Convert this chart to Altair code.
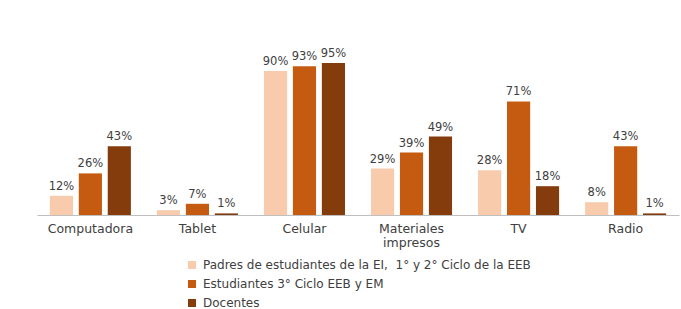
import altair as alt
import pandas as pd

categories = ["Computadora", "Tablet", "Celular", "Materiales impresos", "TV", "Radio"]
series = [
    "Padres de estudiantes de la EI,\u00a0 1° y 2° Ciclo de la EEB",
    "Estudiantes 3° Ciclo EEB y EM",
    "Docentes",
]
padres = [12, 3, 90, 29, 28, 8]
estudiantes = [26, 7, 93, 39, 71, 43]
docentes = [43, 1, 95, 49, 18, 1]
colors = ["#F8CBAD", "#C55A11", "#843C0C"]

rows = []
for vals, s in zip([padres, estudiantes, docentes], series):
    for c, v in zip(categories, vals):
        rows.append({"cat": c, "serie": s, "val": v, "lab": f"{v}%"})
df = pd.DataFrame(rows)

FONT = "DejaVu Sans"
TXT = "#404040"

x = alt.X("cat:N", sort=categories, title=None,
          scale=alt.Scale(paddingInner=0.243, paddingOuter=0.12),
          axis=alt.Axis(labelAngle=0, ticks=False, domainColor="#BFBFBF",
                        labelColor=TXT, labelFontSize=12.5, labelFont=FONT,
                        labelPadding=7, labelLineHeight=14,
                        labelExpr="datum.label == 'Materiales impresos' ? ['Materiales', 'impresos'] : datum.label"))
xo = alt.XOffset("serie:N", sort=series, scale=alt.Scale(paddingInner=0.2))
y = alt.Y("val:Q", scale=alt.Scale(domain=[0, 100]), axis=None)

bars = alt.Chart(df).mark_bar().encode(
    x=x, xOffset=xo, y=y,
    color=alt.Color("serie:N", sort=series,
                    scale=alt.Scale(domain=series, range=colors),
                    legend=alt.Legend(title=None, orient="none", legendX=149, legendY=204,
                                      symbolType="square", symbolSize=64,
                                      labelFontSize=12, labelFont=FONT, labelColor=TXT,
                                      labelLimit=0,
                                      rowPadding=7, labelOffset=5, symbolStrokeWidth=0)),
)
labels = alt.Chart(df).mark_text(dy=-9, fontSize=11.5, font=FONT, color=TXT).encode(
    x=x, xOffset=xo, y=y, text="lab:N"
)

chart = alt.layer(bars, labels).properties(
    width=642, height=160,
    padding={"left": 37, "top": 55, "right": 2, "bottom": 94},
    autosize=alt.AutoSizeParams(type="none"),
    background="white",
).configure_view(strokeWidth=0)

chart.save("out.html", embed_options={"renderer": "svg", "actions": False})
